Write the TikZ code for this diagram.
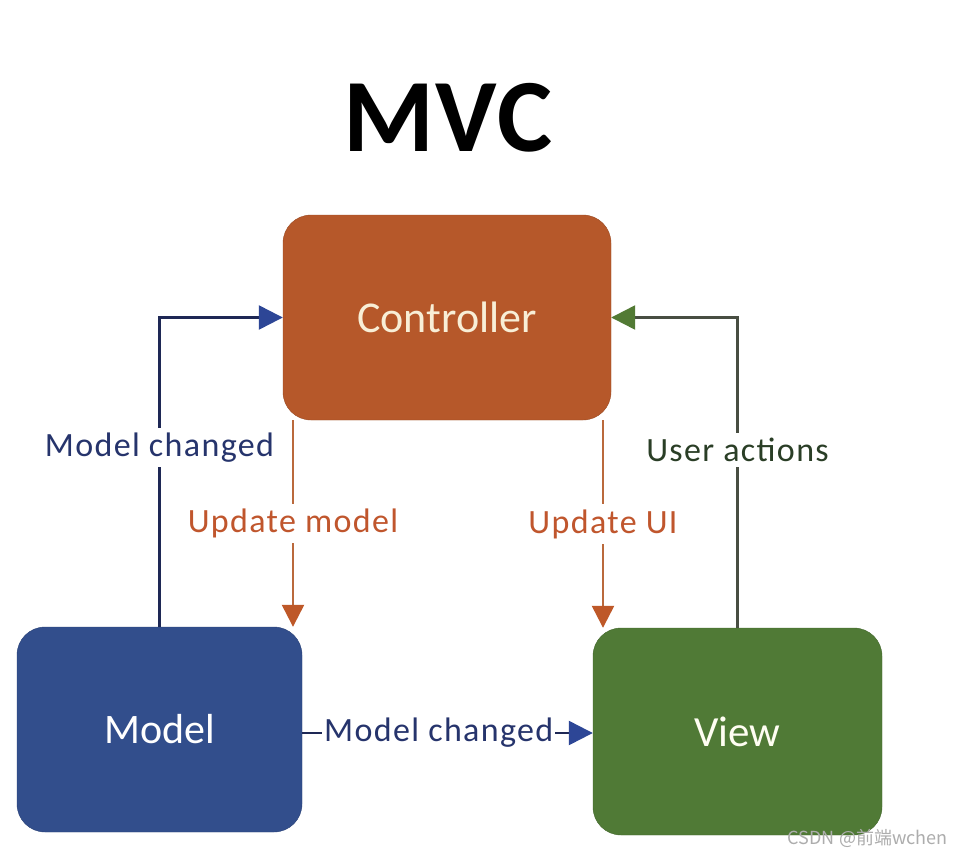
\documentclass[tikz,border=0pt]{standalone}
\usepackage{fontspec}
\setmainfont{Carlito}
\newfontfamily\lblfont[LetterSpace=4]{Carlito}
\newfontfamily\titlefont[LetterSpace=2]{Carlito}
\newfontfamily\cjkfont{Noto Sans CJK SC}
\usetikzlibrary{arrows.meta}
\definecolor{ctrlfill}{RGB}{182,88,42}
\definecolor{modelfill}{RGB}{50,78,140}
\definecolor{viewfill}{RGB}{80,122,54}
\definecolor{bluetext}{RGB}{38,52,108}
\definecolor{blueline}{RGB}{30,40,85}
\definecolor{bluetip}{RGB}{45,70,150}
\definecolor{orangetext}{RGB}{192,86,45}
\definecolor{orangeline}{RGB}{186,105,60}
\definecolor{orangetip}{RGB}{190,88,40}
\definecolor{greentext}{RGB}{42,62,38}
\definecolor{greenline}{RGB}{72,78,66}
\definecolor{greentip}{RGB}{82,122,52}
\definecolor{ctrltext}{RGB}{248,238,214}
\tikzset{
  box/.style={rectangle, rounded corners=28pt, inner sep=0pt},
  lbl/.style={fill=white, inner xsep=2pt, inner ysep=5pt, font=\lblfont\fontsize{34}{38}\selectfont},
  conn/.style={line width=2.4pt},
}
\begin{document}
\begin{tikzpicture}[x=1pt,y=-1pt]
\useasboundingbox[fill=white] (0,0) rectangle (956,857);
\node (title) at (448,118) {\titlefont\fontsize{104}{110}\selectfont\bfseries MVC};
\node[box, fill=ctrlfill, draw=ctrlfill!85!black, minimum width=328pt, minimum height=205pt,
      text=ctrltext, font=\fontsize{44}{50}\selectfont] (ctrl) at (447,317.5) {Controller};
\node[box, fill=modelfill, draw=modelfill!85!black, minimum width=285pt, minimum height=205pt,
      text=white, font=\fontsize{42}{48}\selectfont] (model) at (159.5,729.5) {Model};
\node[box, fill=viewfill, draw=viewfill!85!black, minimum width=289pt, minimum height=207pt,
      text=white!95!yellow, font=\fontsize{43}{48}\selectfont] (view) at (737.5,731.5) {View};
\coordinate (xa) at (293,0);
\coordinate (xb) at (603,0);
\coordinate (my) at (0,733);
% Model changed (left)
\draw[conn, blueline, -{Triangle[length=24pt,width=24pt,color=bluetip]}]
  (model.north) -- node[lbl, text=bluetext, pos=0.58]{Model changed} (model.north |- ctrl.west) -- (ctrl.west);
% User actions (right)
\draw[conn, greenline, -{Triangle[length=24pt,width=24pt,color=greentip]}]
  (view.north) -- node[lbl, text=greentext, pos=0.574]{User actions} (view.north |- ctrl.east) -- (ctrl.east);
% Update model
\draw[conn, orangeline, -{Triangle[length=22pt,width=22pt,color=orangetip]}]
  (ctrl.south -| xa) -- node[lbl, text=orangetext]{Update model} (model.north -| xa);
% Update UI
\draw[conn, orangeline, -{Triangle[length=22pt,width=22pt,color=orangetip]}]
  (ctrl.south -| xb) -- node[lbl, text=orangetext]{Update UI} (view.north -| xb);
% Model changed (bottom)
\draw[conn, blueline, -{Triangle[length=24pt,width=24pt,color=bluetip]}]
  (model.east |- my) -- node[lbl, text=bluetext, pos=0.47]{Model changed} (view.west |- my);
\node[text=black!32, font=\cjkfont\fontsize{18}{20}\selectfont, anchor=east] (wm) at (951,838) {CSDN @前端wchen};
\end{tikzpicture}
\end{document}
